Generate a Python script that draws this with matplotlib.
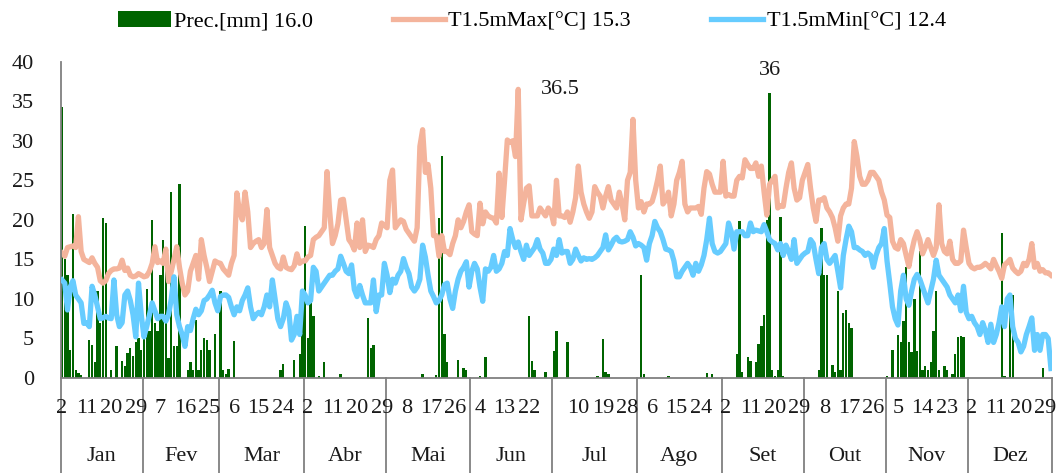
import numpy as np
import matplotlib
matplotlib.use("Agg")
import matplotlib.pyplot as plt
import matplotlib.transforms as mtransforms

# month axis (data starts on Jan 2, one day missing at end of Oct)
months = ["Jan", "Fev", "Mar", "Abr", "Mai", "Jun", "Jul", "Ago", "Set", "Out", "Nov", "Dez"]
month_days = [30, 28, 31, 30, 31, 30, 31, 31, 30, 30, 30, 31]
first_day = 2

legend_labels = ["Prec.[mm] 16.0", "T1.5mMax[\u00b0C] 15.3", "T1.5mMin[\u00b0C] 12.4"]

# daily precipitation [mm]
prec = (
    [34.3, 15, 13, 3.5, 20.8, 1, 0.6, 0.4, 0, 0, 4.8, 4.2, 2, 11, 7, 20.2, 19.6, 0, 1, 0,
     4, 0, 2.2, 1.5, 3.2, 3.8, 2.8, 4.5, 5, 3.5]  # Jan
    + [6, 11.3, 6, 20, 7, 6, 13, 17.5, 16, 2.5, 23.5, 4, 4, 24.5, 0, 0, 1, 2, 1, 7.3,
       1, 3.5, 5, 4.8, 3.5, 0, 5.6, 0]  # Fev
    + [11, 1, 0.5, 1.2, 0, 4.7] + [0] * 16 + [1, 1.8, 0, 0, 0, 2.3, 0, 3, 9]  # Mar
    + [19.2, 5, 11, 7.8, 0, 0.2, 0, 2] + [0] * 5 + [0.5] + [0] * 9 + [7.6, 3.8, 4.2] + [0] * 4  # Abr
    + [0] * 13 + [0.5] + [0] * 4 + [0.4, 20.2, 28.1, 5.6, 2] + [0] * 3 + [2.3, 0, 1.3, 1, 0]  # Mai
    + [0, 0, 0, 0.2, 0, 2.6] + [0] * 15 + [7.8, 2.2, 1, 0, 0, 0, 0.7, 0, 0]  # Jun
    + [3.4, 5.9, 0, 0, 0, 4.6] + [0] * 10 + [0.2, 0, 4.9, 0.8, 0.5] + [0] * 10  # Jul
    + [0, 13, 0.5] + [0] * 8 + [0.2] + [0] * 13 + [0.6, 0, 0.5, 0, 0, 0]  # Ago
    + [0] * 5 + [3, 19.8, 0.8, 0, 2.7, 2.1, 0, 2, 4.3, 6.6, 8, 20, 36, 1, 0.3, 1, 20.4, 0.2]
    + [0] * 7  # Set
    + [0] * 5 + [1, 19, 13, 13, 0, 1.7, 0.8, 11, 1, 8.2, 8.6, 6.9, 6.3] + [0] * 12  # Out
    + [0.2, 0, 3.6, 0, 5.5, 4.5, 7.2, 14, 4.5, 3.3, 10, 3.4, 16, 1, 1.5, 1, 2, 6, 11, 1,
       0, 1.5, 1, 0, 0.5, 3, 5.2, 5.3, 5.2, 0]  # Nov
    + [0] * 12 + [18.3, 0.3, 0, 10, 10.5] + [0] * 10 + [1.3, 0, 0, 0]  # Dez
)

# daily max temperature at 1.5 m
tmax = (
    [15.8, 15.4, 16.5, 16.6, 16.7, 16.5, 20.4, 16, 15, 14.8, 14.6, 15.2, 14.5, 14, 12.3,
     12, 12.3, 13.2, 13.6, 13.8, 13.8, 13.9, 14.9, 13.6, 13.9, 13, 12.8, 12.9, 13.2, 13]
    + [12.8, 12.9, 13.5, 14.5, 16.6, 14.6, 14.8, 14.5, 16.3, 12.2, 13.5, 15, 16.6, 14, 12,
       10.5, 11, 13.5, 14.5, 15.5, 12.5, 17.5, 15.5, 14, 12.2, 13.5, 14.8, 14.6]
    + [14.5, 13.8, 13.4, 13, 14.5, 15.5, 23.4, 21, 20, 23.5, 21, 16.5, 17, 17.3, 17.5,
       16.5, 17, 21.3, 16.5, 15.5, 14.5, 14, 13.8, 15.3, 14, 13.8, 13.7, 14.2, 15.7, 14.5, 14.8]
    + [14.8, 15.3, 15.5, 17.5, 17.8, 18, 18.5, 19, 26.1, 21, 17, 18, 19.5, 22.5, 22.6, 20,
       17.5, 17, 16.2, 19.6, 16.5, 20, 16, 16.8, 16.7, 16.5, 17.5, 18, 19.6, 19.3]
    + [19, 25, 26.3, 19, 19.5, 20, 19.8, 18.8, 18.3, 17.8, 17.3, 19, 29.3, 31.4, 26, 27,
       24, 18, 18, 15.4, 18, 16, 16, 15.6, 17, 18, 20, 19, 19.8, 21, 21.9]
    + [18.5, 18.2, 18, 22.1, 19.5, 21, 20.5, 20.3, 20.2, 19.6, 25.9, 20.3, 25, 30.1, 29.8,
       30, 28, 36.5, 20, 22.1, 24, 24.3, 20.5, 20.5, 20.5, 21.5, 21, 20.5, 21.5, 21]
    + [19.5, 25, 20.5, 20.5, 20.3, 21, 19.7, 21, 22.8, 26.8, 23.5, 22, 21, 20.2, 21, 24.2,
       23.5, 23, 21.5, 23, 24.2, 22.5, 22, 21.5, 23.5, 22, 20, 25, 26, 32.7, 25]
    + [21.5, 22.3, 21, 22, 22, 22.3, 23.5, 25, 26.8, 22, 22.5, 23.5, 20.5, 22, 25, 26, 27.4,
       22, 21, 21.5, 21.5, 21.5, 21.7, 20.7, 24, 26.1, 25.8, 24.5, 23.5, 23.5, 23.5]
    + [27.4, 23, 23.2, 23, 23, 25, 25.5, 25.3, 27.6, 27, 26.5, 26.5, 27.2, 25.5, 26.8, 23.5,
       20.6, 24.5, 25, 25.5, 21.5, 21.8, 21.7, 24, 26, 27.2, 24, 22.5, 22.8, 25]
    + [26, 27, 24, 21.5, 19.8, 22.5, 22.5, 22.8, 21.5, 21, 20.3, 19, 17.3, 20.5, 21.5, 22,
       22, 24, 29.9, 28, 25.5, 24.5, 24.5, 25, 26, 26, 25.5, 25, 23.5, 22.5]
    + [20.6, 20.3, 17.3, 16.5, 16.3, 17.5, 17, 15.5, 14.1, 16, 17.5, 18.5, 17.5, 15.7, 16.5,
       17.5, 16.5, 15.5, 16.5, 21.9, 17, 16, 15.7, 17.3, 15, 14.5, 14.5, 14.8, 18.7, 16.5]
    + [14.5, 14, 13.8, 14, 14, 14.2, 14.5, 14.2, 13.8, 15, 14.2, 13.5, 12.6, 14.3, 14.6, 15,
       13.9, 13.5, 13.2, 13.5, 14.5, 14.2, 15, 17, 14, 14.5, 13.5, 13.7, 13.3, 13.3, 13]
)

# daily min temperature at 1.5 m
tmin = (
    [12.4, 12, 8.6, 11.5, 12.3, 10.5, 10, 9.5, 6.9, 7, 6.5, 11.6, 10.5, 9, 7.5, 7.6, 7.8,
     7.6, 7.5, 12.4, 8, 6.5, 7, 10.5, 11, 9.8, 8, 5.2, 12, 8]
    + [5.2, 6.5, 8, 9.5, 8.5, 7.5, 7.8, 7.8, 7.2, 8, 10, 12.8, 8, 6.5, 5.5, 4, 6.5, 6, 7.5,
       8.7, 8, 8.5, 9.8, 10, 10.5, 11.1, 9.5, 8.5]
    + [10.3, 10.5, 10.5, 10.2, 9, 8, 9, 8.5, 9.8, 10.5, 11.4, 9, 7.5, 8, 8.3, 8, 9, 10.5, 9,
       12.4, 10, 7.5, 6.5, 7.5, 9.5, 8.5, 4.8, 5.5, 7.8, 5.5, 11]
    + [10.5, 9.5, 9.8, 14, 13.5, 11, 11.5, 12, 12.5, 13, 13, 13.5, 13.8, 15.4, 14.5, 13.5,
       13.2, 14.3, 11.2, 10.3, 11.7, 10.5, 9.5, 9.5, 9.5, 12.4, 8.4, 10.5, 10.5, 14.5]
    + [13, 10.8, 12.5, 12, 13, 13.5, 15.1, 14, 13.2, 11.5, 11, 11.5, 12.5, 16.8, 15.3, 13,
       11, 10.3, 9.5, 9.8, 10.5, 11.8, 12, 10, 8.8, 11, 12.5, 13.5, 14, 14.7, 11.5]
    + [13.5, 14.5, 13.8, 11.5, 9.7, 13.8, 13.5, 14, 15.5, 13.5, 13.8, 14.5, 16, 15.5, 18.9,
       17.5, 16.5, 17.2, 16, 15, 16.8, 15.5, 16, 16.5, 17.5, 16.3, 15.8, 14.5, 14.5, 15]
    + [16.3, 15.5, 17.5, 15.8, 16, 16, 14.5, 15, 16.3, 15.5, 14.8, 15.2, 15, 15.1, 15, 15.2,
       15.5, 16, 16.5, 18.1, 16.2, 16.8, 17.5, 17.8, 17.3, 17.2, 17.3, 17.5, 18.5, 17.8, 16.7]
    + [17, 16.8, 16.5, 14.9, 17, 18, 19.8, 19, 18.5, 17.5, 16.3, 16.2, 16, 14.8, 12.8, 12.8,
       13.5, 14, 14.5, 14, 13, 14.5, 13.5, 14.3, 15.5, 17.5, 20.2, 17, 16, 15.8, 16]
    + [16.5, 17, 19.6, 18.5, 16.3, 18.5, 18.5, 18.5, 18, 18, 19.6, 18.5, 18.7, 18.6, 18.5,
       19.4, 18.5, 17.5, 17.2, 17, 16.2, 17, 15.5, 16.8, 16, 15, 17.5, 14.5, 15, 15.5]
    + [15.8, 16, 17.5, 17, 15, 13.2, 16.5, 17, 15, 14.5, 15, 15.5, 13.5, 11.4, 15.5, 17.5,
       19.2, 18.5, 16.5, 16.5, 16.2, 16, 15.5, 15.8, 15.5, 14, 15.5, 16.5, 17, 18.9]
    + [14.8, 12, 9, 7.5, 6.7, 11, 13, 10, 9.2, 11, 12.5, 13.1, 12.5, 11.5, 10.5, 9.5, 11,
       12.5, 14.9, 13, 12.5, 12, 11.5, 10.5, 10, 9.5, 10.5, 8.5, 11.6, 8.3]
    + [7.5, 7.8, 7, 6.5, 5.5, 7, 6, 4.5, 6.8, 4.5, 5.5, 7, 9, 6.5, 10, 10.5, 6.5, 5, 4.5,
       3.3, 4, 5.5, 6.5, 7.6, 3.5, 5.5, 3.5, 5.5, 5.5, 5, 1.2]
)

days = np.arange(len(tmax))
n = len(days)

# day-of-month for every category
day_of_month = []
for m, nd in enumerate(month_days):
    start = first_day if m == 0 else 1
    day_of_month += list(range(start, start + nd))

plt.rcParams['font.family'] = ['Liberation Serif', 'DejaVu Serif']
txt_color = '#1a1a1a'
grey = '#808080'
fs = 16

fig = plt.figure(figsize=(10.64, 4.73), dpi=100)
ax = fig.add_axes([0.057, 0.2008, 0.932, 0.6688])

bars = ax.bar(days, prec, width=0.85, color='#006400', zorder=1)
lmax, = ax.plot(days, tmax, color='#F4B49C', lw=3.8, solid_joinstyle='round', zorder=2)
lmin, = ax.plot(days, tmin, color='#66CCFF', lw=3.8, solid_joinstyle='round', zorder=3)

ax.set_xlim(-0.5, n - 0.5)
ax.set_ylim(0, 40)
ax.set_yticks(np.arange(0, 41, 5))
ax.tick_params(axis='y', length=0, pad=19, labelsize=fs, labelcolor=txt_color)
ax.set_xticks([])
for s in ['top', 'right']:
    ax.spines[s].set_visible(False)
for s in ['left', 'bottom']:
    ax.spines[s].set_color(grey)
    ax.spines[s].set_linewidth(1.3)

# multi-level category axis: day labels and months
trans = mtransforms.blended_transform_factory(ax.transData, ax.transAxes)
bounds = np.concatenate([[0], np.cumsum(month_days)]) - 0.5
for b in bounds:
    ax.plot([b, b], [0, -0.32], transform=trans, color=grey, lw=1.3, clip_on=False)
for i in range(0, n, 9):
    if day_of_month[i] == 1:  # hidden in the original (overlaps)
        continue
    ax.text(i, -0.097, str(day_of_month[i]), transform=trans, ha='center', va='center',
            fontsize=fs, color=txt_color)
for m, name in enumerate(months):
    ax.text((bounds[m] + bounds[m + 1]) / 2, -0.247, name, transform=trans, ha='center',
            va='center', fontsize=fs, color=txt_color)

# data labels on the extremes
imax = int(np.argmax(tmax))
ax.annotate(f"{tmax[imax]:.1f}", xy=(imax, tmax[imax]), xytext=(23, 0),
            textcoords='offset pixels', ha='left', va='center', fontsize=fs, color=txt_color)
ip = int(np.argmax(prec))
ax.annotate(f"{prec[ip]:.0f}", xy=(ip, prec[ip]), xytext=(0, 13),
            textcoords='offset pixels', ha='center', va='bottom', fontsize=fs, color=txt_color)

fig.legend([bars, lmax, lmin], legend_labels, loc='center', bbox_to_anchor=(0.5, 0.955),
           ncol=3, frameon=False, fontsize=fs, handlelength=2.35, handletextpad=0.15,
           columnspacing=3.6)

fig.savefig('out.png', dpi=100)
